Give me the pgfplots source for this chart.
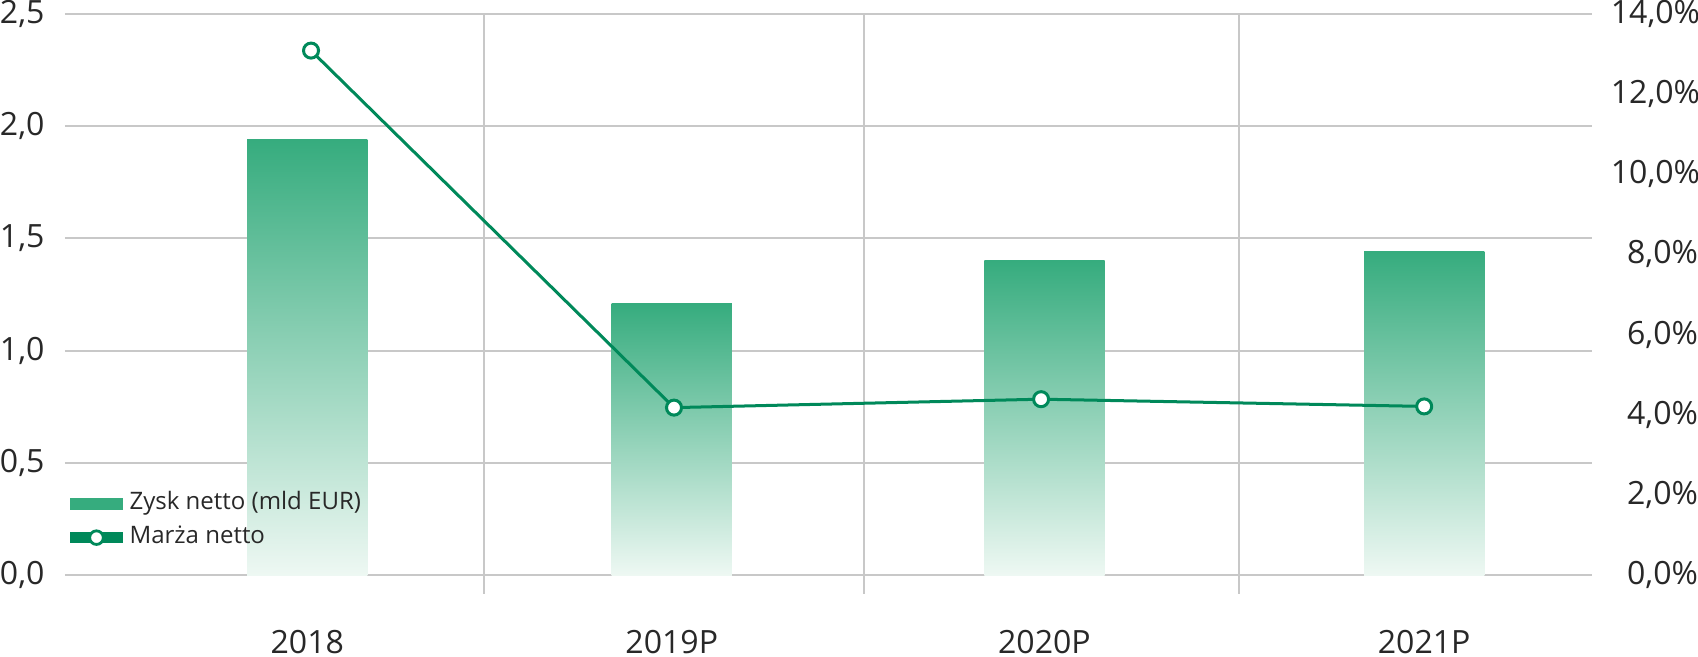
\documentclass[border=0pt]{standalone}
\usepackage{pgfplots}
\pgfplotsset{compat=1.18}
\usepackage{fontspec}
\setmainfont{Open Sans}
\definecolor{barg}{RGB}{54,172,126}
\definecolor{barl}{RGB}{238,248,243}
\definecolor{lineg}{RGB}{0,137,90}
\definecolor{gridc}{RGB}{200,200,200}
\definecolor{txt}{RGB}{40,40,40}
\begin{document}
\begin{tikzpicture}
\pgfplotsset{
  base/.style={
    scale only axis, width=762.5pt, height=289.5pt,
    xmin=-0.651, xmax=3.452,
    axis line style={draw=none},
    tick style={draw=none},
    /pgf/number format/assume math mode=true,
    tick label style={font=\fontsize{16}{19}\selectfont, text=txt},
  },
  bar/.style={ybar, bar width=0.323, draw=none, top color=barg, bottom color=barl},
}
\begin{axis}[base,
  ymin=-0.0816, ymax=2.5,
  ytick={0,0.5,1,1.5,2,2.5},
  yticklabel={\pgfmathprintnumber[fixed,fixed zerofill,precision=1,use comma]{\tick}},
  yticklabel style={inner sep=0pt, xshift=-10pt},
  ymajorgrids, grid style={gridc, line width=1pt},
  xtick={0,0.979,1.980,3},
  xticklabels={2018,2019P,2020P,2021P},
  xticklabel style={inner sep=0pt, text depth=1.8pt, yshift=-18pt},
  extra x ticks={0.475,1.496,2.502},
  extra x tick labels={},
  extra x tick style={grid=major, major grid style={gridc, line width=1pt}},
]
\addplot[bar] coordinates {(0,1.94)};
\addplot[bar] coordinates {(0.979,1.21)};
\addplot[bar] coordinates {(1.980,1.40)};
\addplot[bar] coordinates {(3,1.44)};
\end{axis}
\begin{axis}[base,
  axis y line*=right, hide x axis,
  ymin=-0.457, ymax=14,
  ytick={0,2,4,6,8,10,12,14},
  yticklabel={\pgfmathprintnumber[fixed,fixed zerofill,precision=1,use comma]{\tick}\%},
  yticklabel style={anchor=west, inner sep=0pt, text width=43.5pt, align=right, xshift=9pt},
  legend cell align=left,
  legend style={at={(axis description cs:0,0.176)}, anchor=north west, draw=none, fill=none,
    inner sep=0pt, outer sep=0pt, row sep=5pt,
    nodes={inner sep=0pt, text height=9pt, text depth=3pt, text=txt},
    font=\fontsize{12}{14}\selectfont},
]
\addlegendimage{legend image code/.code={\fill[barg] (0pt,-2.75pt) rectangle (26pt,2.75pt); \path[draw=none] (0pt,0pt) -- (29.5pt,0pt);}}
\addlegendentry{Zysk netto (mld EUR)}
\addplot[lineg, line width=1.5pt, mark=*, mark size=3.75pt,
  mark options={fill=white, draw=lineg, line width=1.5pt},
  legend image code/.code={\draw[lineg, line width=5.5pt] (0pt,0pt) -- (26pt,0pt); \filldraw[fill=white, draw=lineg, line width=1.4pt] (13pt,0pt) circle (3.4pt); \path[draw=none] (0pt,0pt) -- (29.5pt,0pt);}]
  coordinates {(0.01,13.08) (0.985,4.18) (1.971,4.39) (3,4.21)};
\addlegendentry{Marża netto}
\end{axis}
\end{tikzpicture}
\end{document}
